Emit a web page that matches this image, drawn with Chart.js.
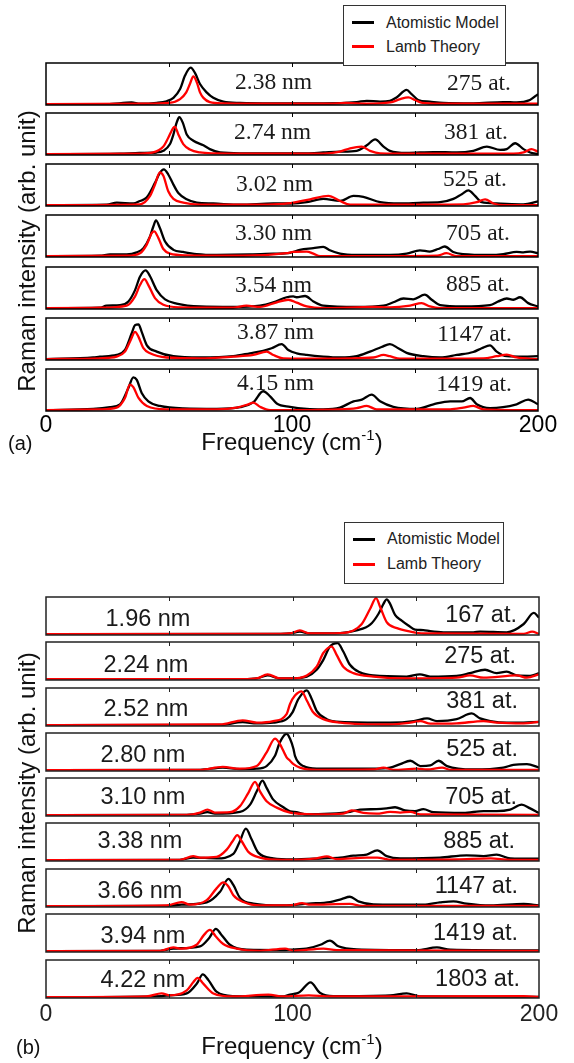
<!DOCTYPE html>
<html><head><meta charset="utf-8">
<script src="https://cdn.jsdelivr.net/npm/chart.js@4.4.0/dist/chart.umd.min.js"></script>
<style>
html,body{margin:0;padding:0;background:#fff;}
#page{position:relative;width:574px;height:1063px;overflow:hidden;background:#fff;}
canvas{position:absolute;left:0;}
.t{position:absolute;white-space:nowrap;height:30px;line-height:30px;color:#1a1a1a;z-index:5;}
.serif{font-family:"Liberation Serif","Times New Roman",serif;font-size:23.5px;}
.sans{font-family:"Liberation Sans",Arial,sans-serif;font-size:23.5px;}
.ax{font-family:"Liberation Sans",Arial,sans-serif;font-size:24px;color:#111;}
.legend{position:absolute;box-sizing:border-box;border:1px solid #333;background:#fff;z-index:10;font-family:"Liberation Sans",Arial,sans-serif;font-size:16px;color:#222;}
.legend .ln{position:absolute;left:8px;width:22px;height:3px;}
.legend .lt{position:absolute;left:42px;height:20px;line-height:20px;white-space:nowrap;}
</style></head><body><div id="page"></div>
<script>
// ---------------- DATA ----------------
const freqTickLabels = [0, 100, 200];
const minorTicks = [50, 100, 150];
const seriesNames = ['Atomistic Model', 'Lamb Theory'];

const sizesA = ['2.38 nm','2.74 nm','3.02 nm','3.30 nm','3.54 nm','3.87 nm','4.15 nm'];
const atomsA = ['275 at.','381 at.','525 at.','705 at.','885 at.','1147 at.','1419 at.'];
const sizesB = ['1.96 nm','2.24 nm','2.52 nm','2.80 nm','3.10 nm','3.38 nm','3.66 nm','3.94 nm','4.22 nm'];
const atomsB = ['167 at.','275 at.','381 at.','525 at.','705 at.','885 at.','1147 at.','1419 at.','1803 at.'];

// panel (a) spectra: [frequency, normalised intensity]
const a1Atom = [[0,.02],[24.7,.02],[34.8,.06],[38.2,.03],[45,.05],[49,.09],[51.8,.17],[54.5,.38],[56.5,.7],[58.8,.89],[60.6,.76],[62.6,.5],[65.3,.3],[68,.17],[72.1,.08],[78.9,.05],[92.4,.04],[106,.04],[112.7,.04],[126.3,.07],[130.4,.1],[135.8,.08],[139.8,.1],[142.5,.18],[146.6,.36],[148.6,.26],[151.3,.12],[156,.08],[161.5,.05],[173.7,.04],[185.9,.07],[191.3,.06],[196.7,.12],[200,.26]];
const a1Lamb = [[0,.02],[40,.03],[50,.05],[54.5,.14],[57,.3],[58.5,.5],[59.9,.68],[61.3,.54],[62.6,.3],[64,.17],[66.6,.07],[72,.04],[100,.03],[115,.03],[122,.05],[130,.03],[140,.06],[144,.14],[147.3,.18],[150,.12],[153,.05],[160,.03],[200,.03]];
const a2Atom = [[0,.02],[30,.03],[38,.05],[45,.06],[47.7,.1],[50.4,.26],[51.8,.49],[53.1,.77],[54.2,.9],[55.6,.77],[57.2,.49],[59.9,.34],[64,.23],[66.6,.14],[70.7,.06],[78.9,.04],[100,.04],[106,.04],[112.7,.06],[119.5,.08],[126.3,.1],[130.4,.23],[133.8,.37],[137.2,.2],[139.8,.1],[146.6,.05],[157.5,.07],[167,.06],[173.7,.1],[179.2,.2],[184.6,.12],[187.3,.14],[190.7,.28],[194.1,.14],[196.8,.06],[200,.02]];
const a2Lamb = [[0,.02],[38,.03],[43.6,.06],[47.7,.2],[49.7,.41],[51.8,.65],[52.4,.67],[53.8,.49],[55.8,.26],[58.5,.13],[62.6,.06],[68,.04],[100,.03],[112.7,.03],[119.5,.08],[123.6,.16],[128.3,.2],[131.7,.1],[135.8,.04],[150,.03],[190,.03],[194.1,.06],[197.3,.14],[200,.08]];
const a3Atom = [[0,.02],[24.7,.03],[28.8,.08],[35.5,.06],[38.2,.12],[40.9,.2],[44.3,.55],[46.3,.79],[47.9,.87],[49.7,.75],[51.8,.51],[53.8,.31],[57.2,.16],[61.3,.08],[68,.06],[78.9,.03],[92.4,.06],[99.5,.06],[106,.09],[112.7,.17],[119.5,.12],[125,.24],[129,.22],[135.8,.09],[144,.06],[153.4,.08],[160.2,.09],[165.6,.17],[169,.28],[171.7,.37],[174.4,.24],[177.1,.09],[183.2,.06],[194.1,.04],[200,.11]];
const a3Lamb = [[0,.02],[38.2,.04],[42.3,.24],[44.3,.51],[46.3,.8],[47.7,.72],[49.7,.35],[51.8,.17],[55.8,.08],[62.6,.03],[80,.03],[92.4,.04],[99.5,.07],[107.4,.16],[114.8,.24],[119.5,.12],[123.6,.03],[139.8,.03],[169.7,.04],[175.1,.09],[178.5,.16],[181.9,.06],[186,.02],[200,.02]];
const a4Atom = [[0,.02],[21.9,.03],[26,.06],[32.8,.06],[36.9,.11],[39.6,.21],[42.3,.49],[43.6,.72],[44.7,.87],[46.3,.69],[48.4,.37],[51.8,.17],[55.8,.12],[61.2,.07],[69.4,.05],[82.9,.06],[92.4,.08],[99.2,.1],[103.2,.17],[108.7,.21],[112.7,.24],[115.4,.16],[119.5,.08],[126.3,.05],[139.8,.05],[146.6,.08],[152,.16],[156,.13],[159.4,.19],[162.1,.25],[165.5,.12],[169.5,.07],[180.5,.05],[185.9,.07],[191.3,.12],[194.1,.11],[196.8,.13],[200,.09]];
const a4Lamb = [[0,.02],[32.8,.03],[38.2,.09],[40.9,.29],[43,.57],[44,.61],[45.7,.45],[47.7,.19],[50.4,.08],[57.2,.04],[80,.03],[97.8,.09],[100.5,.12],[106,.13],[108.7,.08],[111.4,.02],[140,.02],[159,.03],[162.8,.09],[167,.02],[200,.02]];
const a5Atom = [[0,.02],[21.9,.03],[24.6,.08],[30.1,.09],[33.5,.18],[36.2,.45],[38.2,.77],[40.5,.92],[42.3,.78],[45,.45],[48.4,.23],[53.1,.13],[62.6,.06],[76.1,.05],[87,.08],[92.4,.16],[97.8,.28],[100.5,.3],[101.9,.28],[105.3,.31],[108.7,.18],[112.7,.08],[126.3,.05],[137.2,.08],[141.2,.16],[145.3,.25],[149.3,.23],[154,.34],[156.8,.22],[160.2,.09],[169.5,.06],[180.5,.09],[183.9,.18],[187.3,.25],[190,.22],[192.7,.28],[196,.14],[200,.06]];
const a5Lamb = [[0,.02],[21.9,.03],[32.8,.08],[36.2,.3],[38.2,.57],[40,.71],[41.6,.57],[44.3,.26],[47.7,.1],[54.5,.04],[76.1,.03],[81.5,.08],[87,.05],[93.8,.16],[98.5,.22],[101.9,.15],[106,.06],[112.7,.02],[133.1,.05],[139.8,.04],[148,.08],[152.7,.14],[156.1,.06],[160.2,.02],[200,.02]];
const a6Atom = [[0,.02],[19.2,.06],[21.9,.08],[28.7,.12],[32.1,.24],[34.8,.63],[36.2,.83],[37.6,.85],[38.9,.67],[41,.35],[45,.2],[51.8,.09],[62.6,.06],[76.1,.09],[82.9,.16],[88.3,.22],[91.7,.28],[95.8,.38],[98.5,.24],[101.9,.16],[106,.12],[112.7,.08],[119.5,.06],[126.3,.09],[131.7,.2],[136.4,.31],[139.8,.38],[143.2,.28],[146.6,.17],[153.4,.09],[160.2,.06],[167,.12],[173.7,.19],[177.1,.28],[180.5,.35],[183.2,.2],[187.3,.09],[194.1,.08],[200,.09]];
const a6Lamb = [[0,.02],[21.9,.04],[28.7,.08],[32.1,.2],[34.4,.47],[36.2,.67],[37.6,.55],[39.6,.28],[42.3,.16],[49,.06],[62.6,.04],[76.1,.08],[84.3,.12],[89.7,.2],[92.4,.12],[96.5,.04],[112.7,.03],[133.1,.06],[137.2,.12],[139.8,.09],[143.9,.03],[177.8,.04],[183.2,.09],[187.3,.13],[191.3,.06],[200,.02]];
const a7Atom = [[0,.02],[19.2,.05],[26,.09],[30.1,.16],[33.5,.55],[35.5,.8],[36.9,.74],[38.9,.43],[41.6,.23],[46.3,.12],[55.8,.06],[69.4,.05],[78.9,.09],[84.3,.21],[88.3,.47],[91.1,.35],[93.8,.18],[99.2,.1],[106,.05],[112.7,.04],[119.5,.08],[125,.23],[128.4,.27],[132.4,.39],[135.8,.23],[141.2,.1],[150.7,.05],[157.5,.16],[164.3,.23],[169,.23],[172.4,.31],[175.1,.16],[180.5,.07],[191.3,.16],[196,.27],[200,.16]];
const a7Lamb = [[0,.02],[21.9,.04],[28.7,.08],[32.1,.31],[34.1,.63],[35.5,.57],[37.6,.31],[41,.12],[49,.04],[69.4,.04],[77.5,.08],[82.2,.16],[84.3,.2],[87,.1],[91.1,.02],[119.5,.04],[126.3,.07],[130.4,.12],[134.4,.04],[164.3,.04],[169.7,.08],[173.7,.12],[177.8,.04],[200,.02]];

// panel (b) spectra
const b1Atom = [[0,.02],[95,.03],[99,.04],[103,.09],[107,.04],[119.3,.05],[126,.12],[131.5,.27],[134.9,.56],[136.9,.82],[138.2,.94],[139.6,.82],[141.6,.53],[144.3,.38],[147,.25],[149.7,.14],[153.1,.13],[155.8,.1],[161.2,.07],[173.4,.07],[176.1,.09],[186.9,.07],[193.8,.29],[197.9,.58],[200,.46]];
const b1Lamb = [[0,.02],[95,.03],[99,.04],[103,.12],[107,.04],[119.3,.05],[124.7,.12],[128.1,.29],[131.5,.69],[133.9,.97],[135.6,.73],[138.2,.34],[142.4,.18],[147.8,.09],[153.1,.04],[193.8,.03],[197.2,.09],[200,.03]];
const b2Atom = [[0,.02],[80,.02],[85.5,.04],[89.9,.12],[94.9,.04],[99,.04],[105.8,.09],[109.8,.27],[112.5,.53],[115.2,.88],[118.3,.97],[120.6,.75],[123.3,.4],[127.4,.2],[132.8,.12],[146.3,.09],[151.7,.15],[155.8,.09],[166.6,.11],[172,.18],[178.1,.27],[182.8,.18],[186.9,.22],[191,.12],[196.4,.11],[200,.18]];
const b2Lamb = [[0,.02],[80,.02],[85.5,.04],[89.9,.15],[94.9,.04],[99,.04],[105.8,.12],[109.8,.35],[112.5,.71],[115.9,.88],[117.9,.66],[120.6,.35],[124.7,.18],[132.8,.09],[146.3,.04],[166.6,.06],[172,.12],[177.5,.06],[191,.12],[195.1,.06],[200,.15]];
const b3Atom = [[0,.02],[70.6,.03],[79.8,.1],[85.5,.07],[92.2,.09],[97.6,.18],[100,.36],[102.4,.71],[105.8,.94],[107.8,.71],[109.8,.4],[113.9,.18],[119.3,.11],[139.6,.09],[149.2,.13],[154.6,.2],[158.6,.13],[166.6,.18],[172.7,.33],[176.1,.2],[180.3,.13],[186.9,.09],[193.8,.09],[200,.11]];
const b3Lamb = [[0,.02],[70.6,.04],[79.8,.15],[85.5,.09],[92.2,.13],[97.6,.31],[99,.58],[101,.8],[103.7,.91],[105.8,.67],[108.4,.36],[112.5,.18],[119.3,.09],[139.6,.04],[147.8,.09],[151.9,.13],[155.9,.06],[166.6,.07],[177.5,.13],[182.8,.09],[193.8,.07],[200,.11]];
const b4Atom = [[0,.02],[62.5,.03],[71.7,.09],[78.7,.05],[85.5,.06],[89.5,.13],[92.9,.4],[94.9,.76],[97.6,.98],[99,.85],[100.4,.58],[101,.4],[104.4,.13],[109.8,.06],[132.8,.06],[139.6,.09],[143.7,.18],[147.8,.27],[151.9,.13],[155.9,.15],[159.3,.27],[162.7,.13],[173.4,.04],[185.5,.09],[189.6,.16],[195.1,.18],[200,.09]];
const b4Lamb = [[0,.02],[62.5,.03],[71.7,.11],[78.7,.06],[85.5,.13],[89.5,.49],[92.9,.85],[94.9,.71],[97.6,.36],[99,.27],[100.4,.18],[103,.09],[109.8,.03],[132.8,.04],[136.9,.09],[141,.03],[150.5,.06],[154.6,.04],[160.7,.09],[164.1,.03],[200,.03]];
const b5Atom = [[0,.02],[57.1,.03],[62.5,.06],[65.5,.1],[68.5,.06],[78.7,.11],[82.8,.3],[85.5,.65],[87.8,.93],[89.5,.74],[92.2,.43],[96.3,.23],[99,.12],[101.7,.1],[105.8,.04],[115.2,.06],[123.3,.11],[127.4,.17],[134.1,.18],[138.2,.2],[141.6,.23],[145.6,.15],[149.7,.13],[153.1,.18],[157.2,.1],[169.3,.08],[177.5,.13],[182.8,.13],[188.3,.17],[193,.3],[196.4,.2],[200,.08]];
const b5Lamb = [[0,.02],[57.1,.03],[62.5,.09],[65.5,.17],[68.5,.09],[74.6,.1],[78.7,.26],[82.1,.61],[84.8,.9],[86.8,.65],[89.5,.39],[93.6,.22],[99,.09],[105.8,.05],[112.5,.04],[120.6,.06],[124,.15],[128.7,.08],[134.1,.06],[139.6,.11],[143.7,.09],[147.8,.11],[151.9,.04],[200,.03]];
const b6Atom = [[0,.02],[54.3,.03],[59.7,.09],[69.2,.07],[76,.19],[78.4,.48],[81.1,.85],[83.4,.57],[86.1,.22],[92.2,.07],[100,.04],[112.5,.07],[119.3,.09],[124.7,.14],[130.1,.17],[134.4,.28],[138.2,.13],[143.7,.07],[159.8,.09],[170.6,.15],[177.5,.13],[182.8,.17],[188.3,.07],[200,.06]];
const b6Lamb = [[0,.02],[54.3,.03],[59.7,.13],[62.5,.09],[69.2,.11],[73.3,.3],[75.7,.52],[77.6,.68],[79.4,.52],[82.1,.24],[86.8,.09],[96.3,.03],[109.8,.07],[113.9,.12],[117.9,.05],[130.1,.09],[134.4,.09],[139.6,.03],[166.6,.04],[180.3,.07],[188.3,.03],[200,.03]];
const b7Atom = [[0,.02],[48.9,.03],[55,.06],[65.2,.12],[70.6,.4],[74,.74],[76,.58],[78.7,.24],[84.1,.09],[96.3,.04],[106.6,.09],[115.2,.13],[119.9,.21],[123.3,.27],[126.7,.15],[132.8,.07],[153.1,.06],[159.8,.12],[165.3,.15],[170.6,.09],[180.3,.04],[193.8,.08],[200,.04]];
const b7Lamb = [[0,.02],[48.9,.04],[55,.13],[58.4,.06],[65.2,.18],[69.2,.49],[71.9,.65],[74,.54],[76,.31],[80.1,.13],[86.8,.04],[99,.04],[103.9,.1],[106.6,.06],[123.3,.08],[128,.03],[200,.03]];
const b8Atom = [[0,.02],[46.3,.03],[51.7,.09],[62.5,.15],[66.2,.37],[68.9,.61],[71.2,.45],[74.6,.19],[81.4,.06],[96.3,.05],[99,.06],[106.6,.1],[111.3,.19],[115.2,.3],[118.6,.15],[126,.07],[150.5,.05],[158.6,.12],[164,.06],[200,.04]];
const b8Lamb = [[0,.02],[46.3,.03],[51.7,.12],[55,.09],[61.1,.19],[64.1,.45],[66.5,.58],[68.9,.41],[71.9,.21],[77.3,.09],[86.8,.03],[97,.09],[100.4,.03],[112.5,.09],[117.9,.05],[200,.03]];
const b9Atom = [[0,.02],[46.9,.05],[50.3,.07],[57.1,.12],[61.2,.38],[63.6,.62],[65.9,.47],[69.3,.16],[76,.05],[96.3,.04],[99,.09],[101.7,.12],[103,.16],[107.3,.41],[111.1,.14],[116.5,.05],[139.6,.07],[146.3,.12],[151.7,.04],[200,.03]];
const b9Lamb = [[0,.02],[40.8,.04],[46.9,.12],[50.3,.07],[57.1,.2],[59.8,.42],[61.5,.53],[63.8,.38],[67.9,.12],[76,.04],[90.2,.09],[96.3,.04],[106.6,.07],[115.2,.04],[193.8,.05],[200,.03]];

const atomA = [a1Atom,a2Atom,a3Atom,a4Atom,a5Atom,a6Atom,a7Atom];
const lambA = [a1Lamb,a2Lamb,a3Lamb,a4Lamb,a5Lamb,a6Lamb,a7Lamb];
const atomB = [b1Atom,b2Atom,b3Atom,b4Atom,b5Atom,b6Atom,b7Atom,b8Atom,b9Atom];
const lambB = [b1Lamb,b2Lamb,b3Lamb,b4Lamb,b5Lamb,b6Lamb,b7Lamb,b8Lamb,b9Lamb];

// ---------------- LAYOUT ----------------
const W = 574;
const panelA = {
  left:46, right:538, boxH:42, tops:[63,113,164,215,267,318,369],
  frameColor:'#000', tickColor:'#000', tickPad:3, axisH:32,
  leftX:[235,234,236,235,235,237,237], leftDy:[18.3,18.4,19,17.3,16.6,13.3,12.7],
  rightX:[511,508,507,510,510,512,512], rightDy:[19,18.4,14,17.3,15.6,14.6,14.3],
  textClass:'serif', leftAlign:'left'
};
const panelB = {
  left:46, right:539, boxH:38, tops:[597,642,688,733,778,823,869,914,960],
  frameColor:'#222', tickColor:'#222', tickPad:5, axisH:34,
  leftX:[148,146,146,143,143,140,140,143,143], leftDy:[20.6,22,20,20.6,18.3,17.3,20.7,21,19],
  rightX:[517,516,518,518,517,515,518,518,520], rightDy:[16.6,12.7,12.3,15.3,18.3,16.7,15.7,17.7,18.3],
  textClass:'sans', leftAlign:'center'
};

const page = document.getElementById('page');

const framePlugin = {
  id:'frame',
  afterDatasetsDraw(chart, args, o) {
    const ctx = chart.ctx, a = chart.chartArea, x = chart.scales.x;
    ctx.save();
    ctx.strokeStyle = o.color; ctx.lineWidth = 1.5;
    ctx.strokeRect(a.left, a.top, a.right - a.left, a.bottom - a.top);
    ctx.lineWidth = 1;
    ctx.beginPath();
    o.ticks.forEach(v => {
      const px = Math.round(x.getPixelForValue(v)) + 0.5;
      ctx.moveTo(px, a.top); ctx.lineTo(px, a.top + 4);
      ctx.moveTo(px, a.bottom); ctx.lineTo(px, a.bottom - 4);
    });
    ctx.stroke();
    ctx.restore();
  }
};

function addText(txt, cls, x, cy, align) {
  const d = document.createElement('div');
  d.className = 't ' + cls;
  d.textContent = txt;
  d.style.top = (cy - 15) + 'px';
  if (align === 'left') { d.style.left = x + 'px'; }
  else if (align === 'right') { d.style.left = (x - 200) + 'px'; d.style.width = '200px'; d.style.textAlign = 'right'; }
  else { d.style.left = (x - 100) + 'px'; d.style.width = '200px'; d.style.textAlign = 'center'; }
  page.appendChild(d);
}

function buildPanel(P, atoms, lambs, sizes, counts) {
  const n = P.tops.length;
  for (let i = 0; i < n; i++) {
    const isBottom = (i === n - 1);
    const padT = 5, padB = 5;
    const axisH = isBottom ? P.axisH : 0;
    const H = P.boxH + padT + padB + axisH;
    const c = document.createElement('canvas');
    c.width = W; c.height = H;
    c.style.top = (P.tops[i] - padT) + 'px';
    c.style.width = W + 'px'; c.style.height = H + 'px';
    page.appendChild(c);
    new Chart(c, {
      type:'line',
      data:{datasets:[
        {label:seriesNames[1], data:lambs[i], borderColor:'#f00', borderWidth:2.3, pointRadius:0, order:0, cubicInterpolationMode:'monotone'},
        {label:seriesNames[0], data:atoms[i], borderColor:'#000', borderWidth:2.3, pointRadius:0, order:1, cubicInterpolationMode:'monotone'}
      ]},
      options:{
        responsive:false, animation:false, events:[], devicePixelRatio:1,
        layout:{padding:{left:P.left, right:W - P.right, top:padT, bottom:padB}},
        plugins:{legend:{display:false}, tooltip:{enabled:false}, frame:{color:P.frameColor, ticks:minorTicks}},
        scales:{
          x:{type:'linear', min:0, max:200, display:isBottom, position:'bottom',
             grid:{display:false, drawTicks:false}, border:{display:false},
             afterFit: s => { s.height = axisH; },
             afterBuildTicks: s => { s.ticks = freqTickLabels.map(v => ({value:v})); },
             ticks:{autoSkip:false, maxRotation:0, padding:P.tickPad, color:P.tickColor,
                    font:{family:'"Liberation Sans", Arial, sans-serif', size:23, lineHeight:1}}},
          y:{min:0, max:1, display:false}
        }
      },
      plugins:[framePlugin]
    });
    const cyL = P.tops[i] + P.leftDy[i], cyR = P.tops[i] + P.rightDy[i];
    addText(sizes[i], P.textClass, P.leftX[i], cyL, P.leftAlign);
    addText(counts[i], P.textClass, P.rightX[i], cyR, 'right');
  }
}

buildPanel(panelA, atomA, lambA, sizesA, atomsA);
buildPanel(panelB, atomB, lambB, sizesB, atomsB);

// legends
function addLegend(left, top, w, h, rows) {
  const lg = document.createElement('div');
  lg.className = 'legend';
  lg.style.left = left + 'px'; lg.style.top = top + 'px';
  lg.style.width = w + 'px'; lg.style.height = h + 'px';
  [['#000', seriesNames[0]], ['#f00', seriesNames[1]]].forEach((r, k) => {
    const cy = rows[k] - top - 1;
    const ln = document.createElement('div'); ln.className = 'ln';
    ln.style.top = (cy - 1.5) + 'px'; ln.style.background = r[0]; lg.appendChild(ln);
    const tx = document.createElement('div'); tx.className = 'lt';
    tx.style.top = (cy - 10) + 'px'; tx.textContent = r[1]; lg.appendChild(tx);
  });
  page.appendChild(lg);
}
addLegend(343, 5, 163, 61, [22.7, 46.7]);
addLegend(344, 522, 160, 62, [539, 564]);

// axis titles
function addAxisTitles(freqCy, ylCy, tag, tagX, tagCy) {
  const f = document.createElement('div');
  f.className = 't ax';
  f.style.left = '142px'; f.style.width = '300px'; f.style.textAlign = 'center';
  f.style.top = (freqCy - 15) + 'px';
  f.innerHTML = 'Frequency (cm<span style="font-size:15px;position:relative;top:-10px">-1</span>)';
  page.appendChild(f);
  const y = document.createElement('div');
  y.className = 't ax';
  y.style.width = '340px'; y.style.textAlign = 'center';
  y.style.left = (26.7 - 170) + 'px'; y.style.top = (ylCy - 15) + 'px';
  y.style.transform = 'rotate(-90deg)';
  y.textContent = 'Raman intensity (arb. unit)';
  page.appendChild(y);
  const t = document.createElement('div');
  t.className = 't ax'; t.style.fontSize = '20px';
  t.style.left = tagX + 'px'; t.style.top = (tagCy - 15) + 'px';
  t.textContent = tag;
  page.appendChild(t);
}
addAxisTitles(442, 250.5, '(a)', 8, 443);
addAxisTitles(1046, 793, '(b)', 16, 1047);
</script>
</body></html>
